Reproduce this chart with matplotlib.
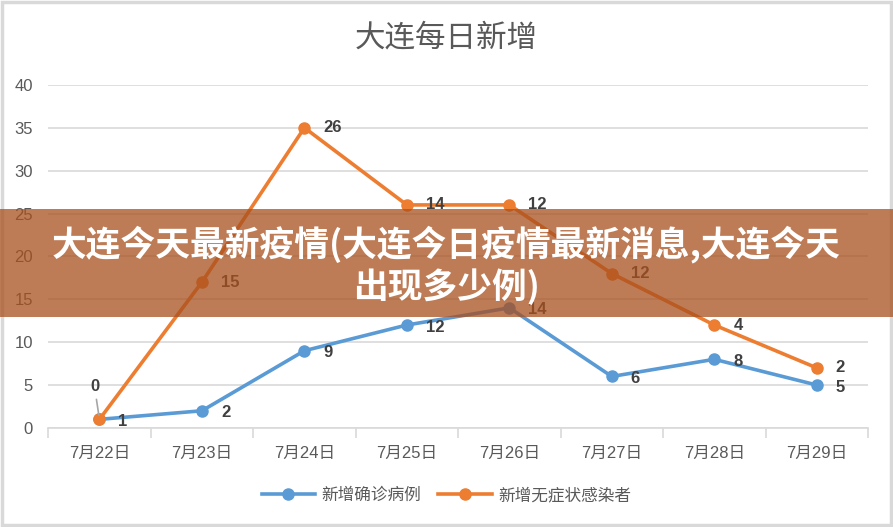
import numpy as np
import matplotlib.pyplot as plt
from matplotlib.patches import Rectangle

plt.rcParams['font.family'] = ['Liberation Sans', 'Noto Sans CJK SC', 'DejaVu Sans']

dates = ['7月22日', '7月23日', '7月24日', '7月25日', '7月26日', '7月27日', '7月28日', '7月29日']
confirmed = [1, 2, 9, 12, 14, 6, 8, 5]
asymptomatic = [0, 15, 26, 14, 12, 12, 4, 2]
yticks = [0, 5, 10, 15, 20, 25, 30, 35, 40]

blue = '#5B9BD5'
orange = '#ED7D31'
grey = '#595959'

x = np.arange(len(dates))
stacked = np.array(confirmed) + np.array(asymptomatic)

fig = plt.figure(figsize=(8.93, 5.27), dpi=100)
ax = fig.add_axes([0.054, 0.188, 0.918, 0.651])

ax.plot(x, confirmed, '-o', color=blue, lw=2.6, markersize=8, label='新增确诊病例', zorder=3)
ax.plot(x, stacked, '-o', color=orange, lw=2.6, markersize=8, label='新增无症状感染者', zorder=3)

# data labels
for i in range(len(x)):
    ax.annotate(str(confirmed[i]), (x[i], confirmed[i]), xytext=(19, -2),
                textcoords='offset pixels', ha='left', va='center',
                fontsize=12, fontweight='bold', color='#404040')
    if i == 0:
        ax.annotate(str(asymptomatic[i]), (x[i], stacked[i]), xytext=(-5, 33),
                    textcoords='offset pixels', ha='center', va='center',
                    fontsize=12, fontweight='bold', color='#404040',
                    arrowprops=dict(arrowstyle='-', color='#a6a6a6', lw=1.2,
                                    shrinkA=2, shrinkB=3))
    else:
        ax.annotate(str(asymptomatic[i]), (x[i], stacked[i]), xytext=(19, 0),
                    textcoords='offset pixels', ha='left', va='center',
                    fontsize=12, fontweight='bold', color='#404040')

ax.set_xlim(-0.5, len(dates) - 0.5)
ax.set_ylim(0, 40)
ax.set_yticks(yticks)
ax.set_xticks(np.arange(-0.5, len(dates)), labels=[])
ax.set_xticks(x, labels=dates, minor=True)
ax.tick_params(axis='x', which='major', length=7, color='#d9d9d9', width=1.2)
ax.tick_params(axis='x', which='minor', length=0, pad=13, labelsize=12, labelcolor=grey)
ax.tick_params(axis='y', length=0, pad=11, labelsize=12, labelcolor=grey)
ax.grid(axis='y', color='#d9d9d9', lw=1.2)
ax.set_axisbelow(True)
for s in ['top', 'right', 'left']:
    ax.spines[s].set_visible(False)
ax.spines['bottom'].set_color('#d9d9d9')
ax.spines['bottom'].set_linewidth(1.2)

fig.text(0.5, 0.928, '大连每日新增', ha='center', va='center', fontsize=22,
         color=grey, family=['Noto Sans CJK SC'], fontweight='light')

leg = fig.legend(loc='center', bbox_to_anchor=(0.5, 0.06), ncol=2, frameon=False,
                 fontsize=12, handlelength=3.2, columnspacing=1.0, handletextpad=0.4)
for t in leg.get_texts():
    t.set_color(grey)
    t.set_family(['Noto Sans CJK SC'])

# outer border
fig.patches.append(Rectangle((0.002, 0.003), 0.996, 0.994, transform=fig.transFigure,
                             fill=False, edgecolor='#d9d9d9', lw=2.5))

# overlay banner
fig.patches.append(Rectangle((0, 1 - 317 / 527), 1, 108 / 527, transform=fig.transFigure,
                             facecolor='#a8501e', alpha=0.75, edgecolor='none', zorder=10))
fig.text(0.5, 1 - 265 / 527, '大连今天最新疫情(大连今日疫情最新消息,大连今天\n出现多少例)',
         ha='center', va='center', fontsize=25, fontweight='bold', color='white',
         family=['Noto Sans CJK SC'], linespacing=1.2, zorder=11)

fig.savefig('out.png', dpi=100)
